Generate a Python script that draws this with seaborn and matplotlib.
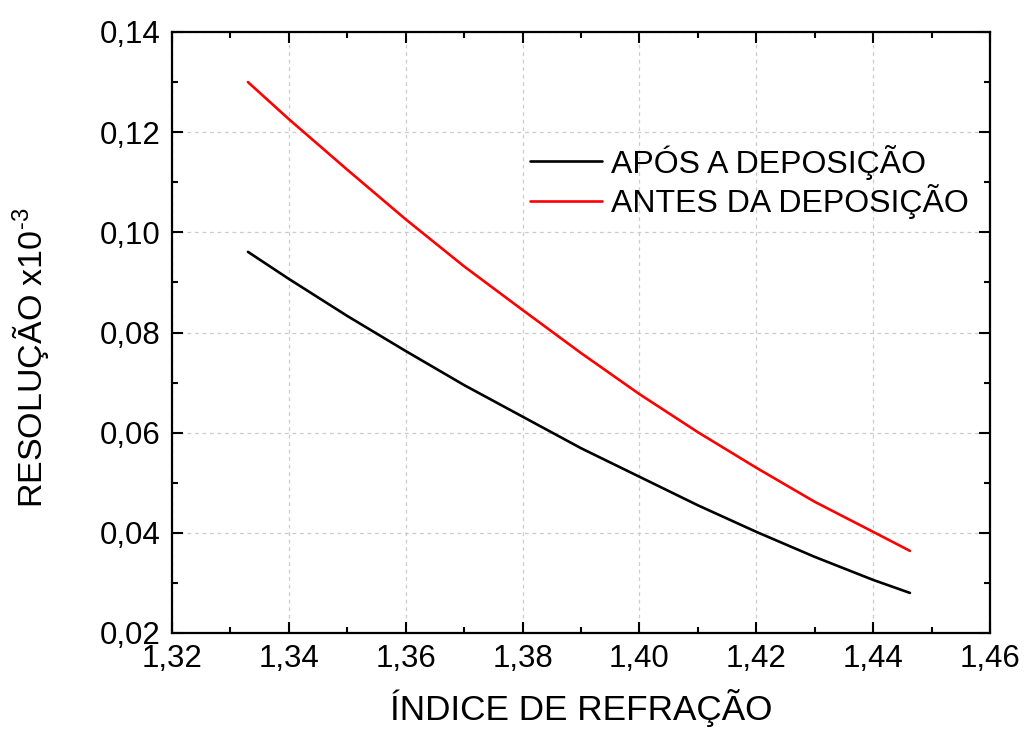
import matplotlib
matplotlib.use("Agg")
import matplotlib.pyplot as plt
from matplotlib.ticker import MultipleLocator, FuncFormatter
import seaborn as sns
import pandas as pd

# Refractive index values and resolution (x10^-3) for each condition
indice_apos = [1.333, 1.34, 1.35, 1.36, 1.37, 1.38, 1.39, 1.40, 1.41, 1.42,
               1.43, 1.44, 1.4463]
resol_apos = [0.0961, 0.0907, 0.0833, 0.0763, 0.0695, 0.0632, 0.0569, 0.0512,
              0.0455, 0.0402, 0.0352, 0.0306, 0.0280]

indice_antes = [1.333, 1.34, 1.35, 1.36, 1.37, 1.38, 1.39, 1.40, 1.41, 1.42,
                1.43, 1.44, 1.4463]
resol_antes = [0.1300, 0.1226, 0.1125, 0.1026, 0.0932, 0.0845, 0.0759, 0.0677,
               0.0601, 0.0530, 0.0462, 0.0402, 0.0364]

series_names = ["APÓS A DEPOSIÇÃO", "ANTES DA DEPOSIÇÃO"]
series_colors = ["#000000", "#ff0000"]

df = pd.concat([
    pd.DataFrame({"x": indice_apos, "y": resol_apos, "serie": series_names[0]}),
    pd.DataFrame({"x": indice_antes, "y": resol_antes, "serie": series_names[1]}),
], ignore_index=True)

sns.set_style("ticks")
plt.rcParams["font.family"] = ["Liberation Sans", "DejaVu Sans"]
plt.rcParams["mathtext.fontset"] = "custom"
plt.rcParams["mathtext.rm"] = "Liberation Sans"
plt.rcParams["mathtext.it"] = "Liberation Sans"
for key in ("text.color", "axes.labelcolor", "xtick.color", "ytick.color",
            "axes.edgecolor"):
    plt.rcParams[key] = "black"

fig = plt.figure(figsize=(10.24, 7.34), dpi=100)
ax = fig.add_axes([172 / 1024, 1 - 633 / 734, (990 - 172) / 1024, (633 - 32) / 734])

sns.lineplot(data=df, x="x", y="y", hue="serie", palette=series_colors,
             hue_order=series_names, linewidth=1.9, ax=ax, sort=False)

ax.set_xlim(1.32, 1.46)
ax.set_ylim(0.02, 0.14)
ax.xaxis.set_major_locator(MultipleLocator(0.02))
ax.xaxis.set_minor_locator(MultipleLocator(0.01))
ax.yaxis.set_major_locator(MultipleLocator(0.02))
ax.yaxis.set_minor_locator(MultipleLocator(0.01))
comma = FuncFormatter(lambda v, p: f"{v:.2f}".replace(".", ","))
ax.xaxis.set_major_formatter(comma)
ax.yaxis.set_major_formatter(comma)

ax.grid(True, which="major", color="#cccccc", linestyle=(0, (3, 3)), linewidth=0.9)
ax.tick_params(which="both", direction="in", top=True, right=True, width=1.5,
               labelsize=22.5, color="black", labelcolor="black")
ax.tick_params(which="major", length=8, pad=8)
ax.tick_params(which="minor", length=4)
for s in ax.spines.values():
    s.set_linewidth(1.6)
    s.set_color("black")

ax.set_xlabel("ÍNDICE DE REFRAÇÃO", fontsize=25.3, labelpad=11)
ax.set_ylabel(r"RESOLUÇÃO x10$^{\text{-3}}$", fontsize=24.5, labelpad=35)
ax.yaxis.label.set_y(0.457)

leg = ax.legend(loc="upper left", bbox_to_anchor=(0.4377, 0.8128), frameon=False,
                fontsize=23, handlelength=2.25, handletextpad=0.3,
                labelspacing=0.14, borderaxespad=0, borderpad=0)

fig.savefig("out.png", dpi=100)
